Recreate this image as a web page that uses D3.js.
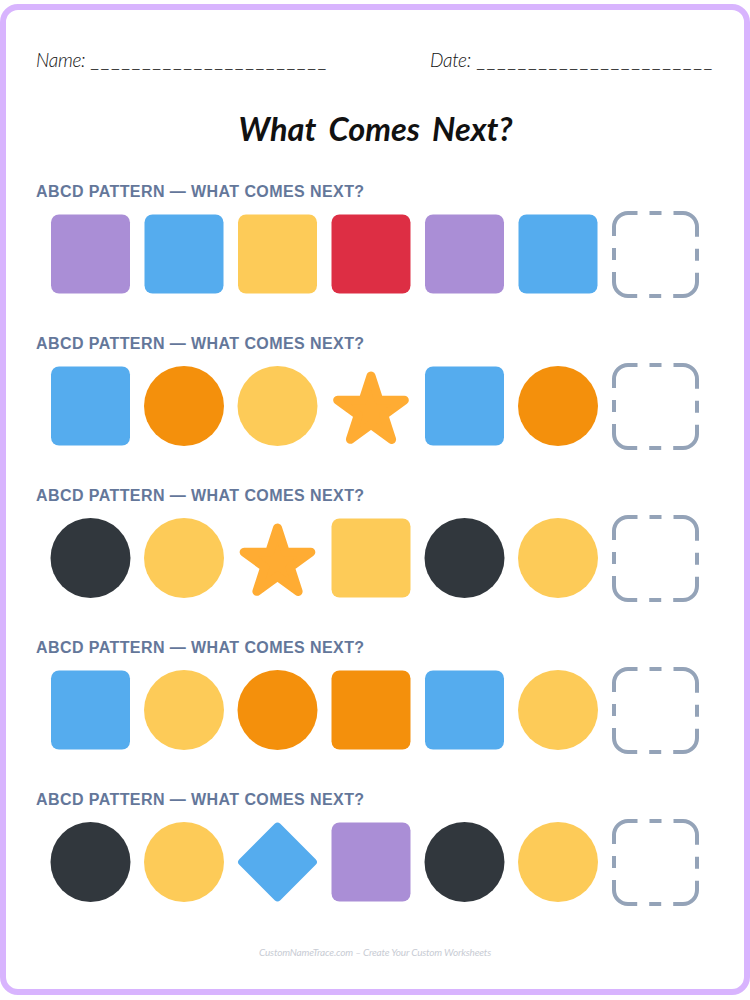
<!DOCTYPE html>
<html>
<head>
<meta charset="utf-8">
<script src="https://cdn.jsdelivr.net/npm/d3@7"></script>
<style>
  html, body { margin: 0; padding: 0; background: #fff; }
  svg { display: block; }
</style>
</head>
<body>
<svg id="board" width="750" height="1000"></svg>
<script>
// Pattern rows
let rowTitles = ['Row 1', 'Row 2', 'Row 3', 'Row 4', 'Row 5']
let rowShapes = [
    ['square', 'square', 'square', 'square', 'square', 'square'],
    ['square', 'circle', 'circle', 'star', 'square', 'circle'],
    ['circle', 'circle', 'star', 'square', 'circle', 'circle'],
    ['square', 'circle', 'circle', 'square', 'square', 'circle'],
    ['circle', 'circle', 'diamond', 'square', 'circle', 'circle']
]
let rowColors = [
    ['purple', 'blue', 'yellow', 'red', 'purple', 'blue'],
    ['blue', 'orange', 'yellow', 'gold', 'blue', 'orange'],
    ['black', 'yellow', 'gold', 'yellow', 'black', 'yellow'],
    ['blue', 'yellow', 'orange', 'orange', 'blue', 'yellow'],
    ['black', 'yellow', 'blue', 'purple', 'black', 'yellow']
]
let columns = [0, 1, 2, 3, 4, 5, 6]
let colorNames = ['purple', 'blue', 'yellow', 'red', 'orange', 'gold', 'black']
let colorValues = ['#aa8ed6', '#55acee', '#fdcb58', '#dd2e44', '#f4900c', '#ffac33', '#31373d']

let heading = 'ABCD PATTERN — WHAT COMES NEXT?'
let blankLine = '_______________________'

let board = d3.select('#board')
let handFont = 'Lato, "Open Sans", sans-serif'

let x = d3.scalePoint().domain(columns).range([90.5, 651.5])
let y = d3.scalePoint().domain(rowTitles).range([254, 862])
let color = d3.scaleOrdinal().domain(colorNames).range(colorValues)

// Page border
board.append('rect')
    .attr('x', 3).attr('y', 7)
    .attr('width', 744).attr('height', 985)
    .attr('rx', 15)
    .attr('fill', '#fff')
    .attr('stroke', '#d8b4fe')
    .attr('stroke-width', 6)

// Name and date lines
let topLine = (label, labelX, lineX) => {
    board.append('text')
        .attr('x', labelX).attr('y', 67)
        .attr('font-family', handFont).attr('font-style', 'italic').attr('font-weight', 300)
        .attr('font-size', 19).attr('letter-spacing', -0.3).attr('fill', '#111')
        .text(label)
    board.append('text')
        .attr('x', lineX).attr('y', 67)
        .attr('font-family', '"Liberation Sans", sans-serif')
        .attr('font-size', 13).attr('letter-spacing', 3.1).attr('fill', '#222')
        .text(blankLine)
}
topLine('Name:', 36, 91)
topLine('Date:', 430, 477)

board.append('text')
    .attr('x', 375.5).attr('y', 141)
    .attr('text-anchor', 'middle')
    .attr('font-family', handFont).attr('font-style', 'italic').attr('font-weight', 700)
    .attr('font-size', 32.5).attr('word-spacing', 5).attr('fill', '#111')
    .text('What Comes Next?')

let drawShape = (g, shape, fill) => {
    if (shape === 'square') {
        g.append('rect')
            .attr('x', -39.5).attr('y', -39.5)
            .attr('width', 79).attr('height', 79)
            .attr('rx', 8)
            .attr('fill', fill)
    } else if (shape === 'circle') {
        g.append('circle').attr('r', 40).attr('fill', fill)
    } else if (shape === 'diamond') {
        g.append('rect')
            .attr('x', -29).attr('y', -29)
            .attr('width', 58).attr('height', 58)
            .attr('rx', 4)
            .attr('transform', 'rotate(45)')
            .attr('fill', fill)
    } else {
        g.append('path')
            .attr('d', d3.symbol(d3.symbolStar, 1380)())
            .attr('transform', 'translate(0,5)')
            .attr('fill', fill)
            .attr('stroke', fill)
            .attr('stroke-width', 9)
            .attr('stroke-linejoin', 'round')
    }
}

// One group per row: heading, six shapes, empty answer box
let rows = board.selectAll('g.row')
    .data(rowTitles)
    .enter()
    .append('g')
    .attr('class', 'row')
    .attr('transform', (d) => 'translate(0,' + y(d) + ')')

rows.append('text')
    .attr('x', 36).attr('y', -57)
    .attr('font-family', '"Liberation Sans", sans-serif').attr('font-weight', 700)
    .attr('font-size', 16).attr('letter-spacing', 0.42).attr('fill', '#64779a')
    .text(heading)

rows.each(function (d, rowIndex) {
    let row = d3.select(this)
    rowShapes[rowIndex].forEach((shape, i) => {
        let g = row.append('g').attr('transform', 'translate(' + x(columns[i]) + ',0)')
        drawShape(g, shape, color(rowColors[rowIndex][i]))
    })

    // Answer box: dash centred on each side, long dash round each corner
    let side = 83
    let radius = 14
    let quarter = (4 * (side - 2 * radius) + 2 * Math.PI * radius) / 4
    row.append('rect')
        .attr('x', x(columns[6]) + 4 - side / 2)
        .attr('y', 0.5 - side / 2)
        .attr('width', side).attr('height', side)
        .attr('rx', radius)
        .attr('fill', 'none')
        .attr('stroke', '#94a3b8')
        .attr('stroke-width', 4)
        .attr('stroke-dasharray', [12, 12, quarter - 36, 12].join(' '))
        .attr('stroke-dashoffset', -(side / 2 - radius - 6))
})

board.append('text')
    .attr('x', 375).attr('y', 956)
    .attr('text-anchor', 'middle')
    .attr('font-family', handFont).attr('font-style', 'italic').attr('font-weight', 400)
    .attr('font-size', 10).attr('letter-spacing', -0.18).attr('fill', '#c8ccd4')
    .text('CustomNameTrace.com – Create Your Custom Worksheets')
</script>
</body>
</html>
